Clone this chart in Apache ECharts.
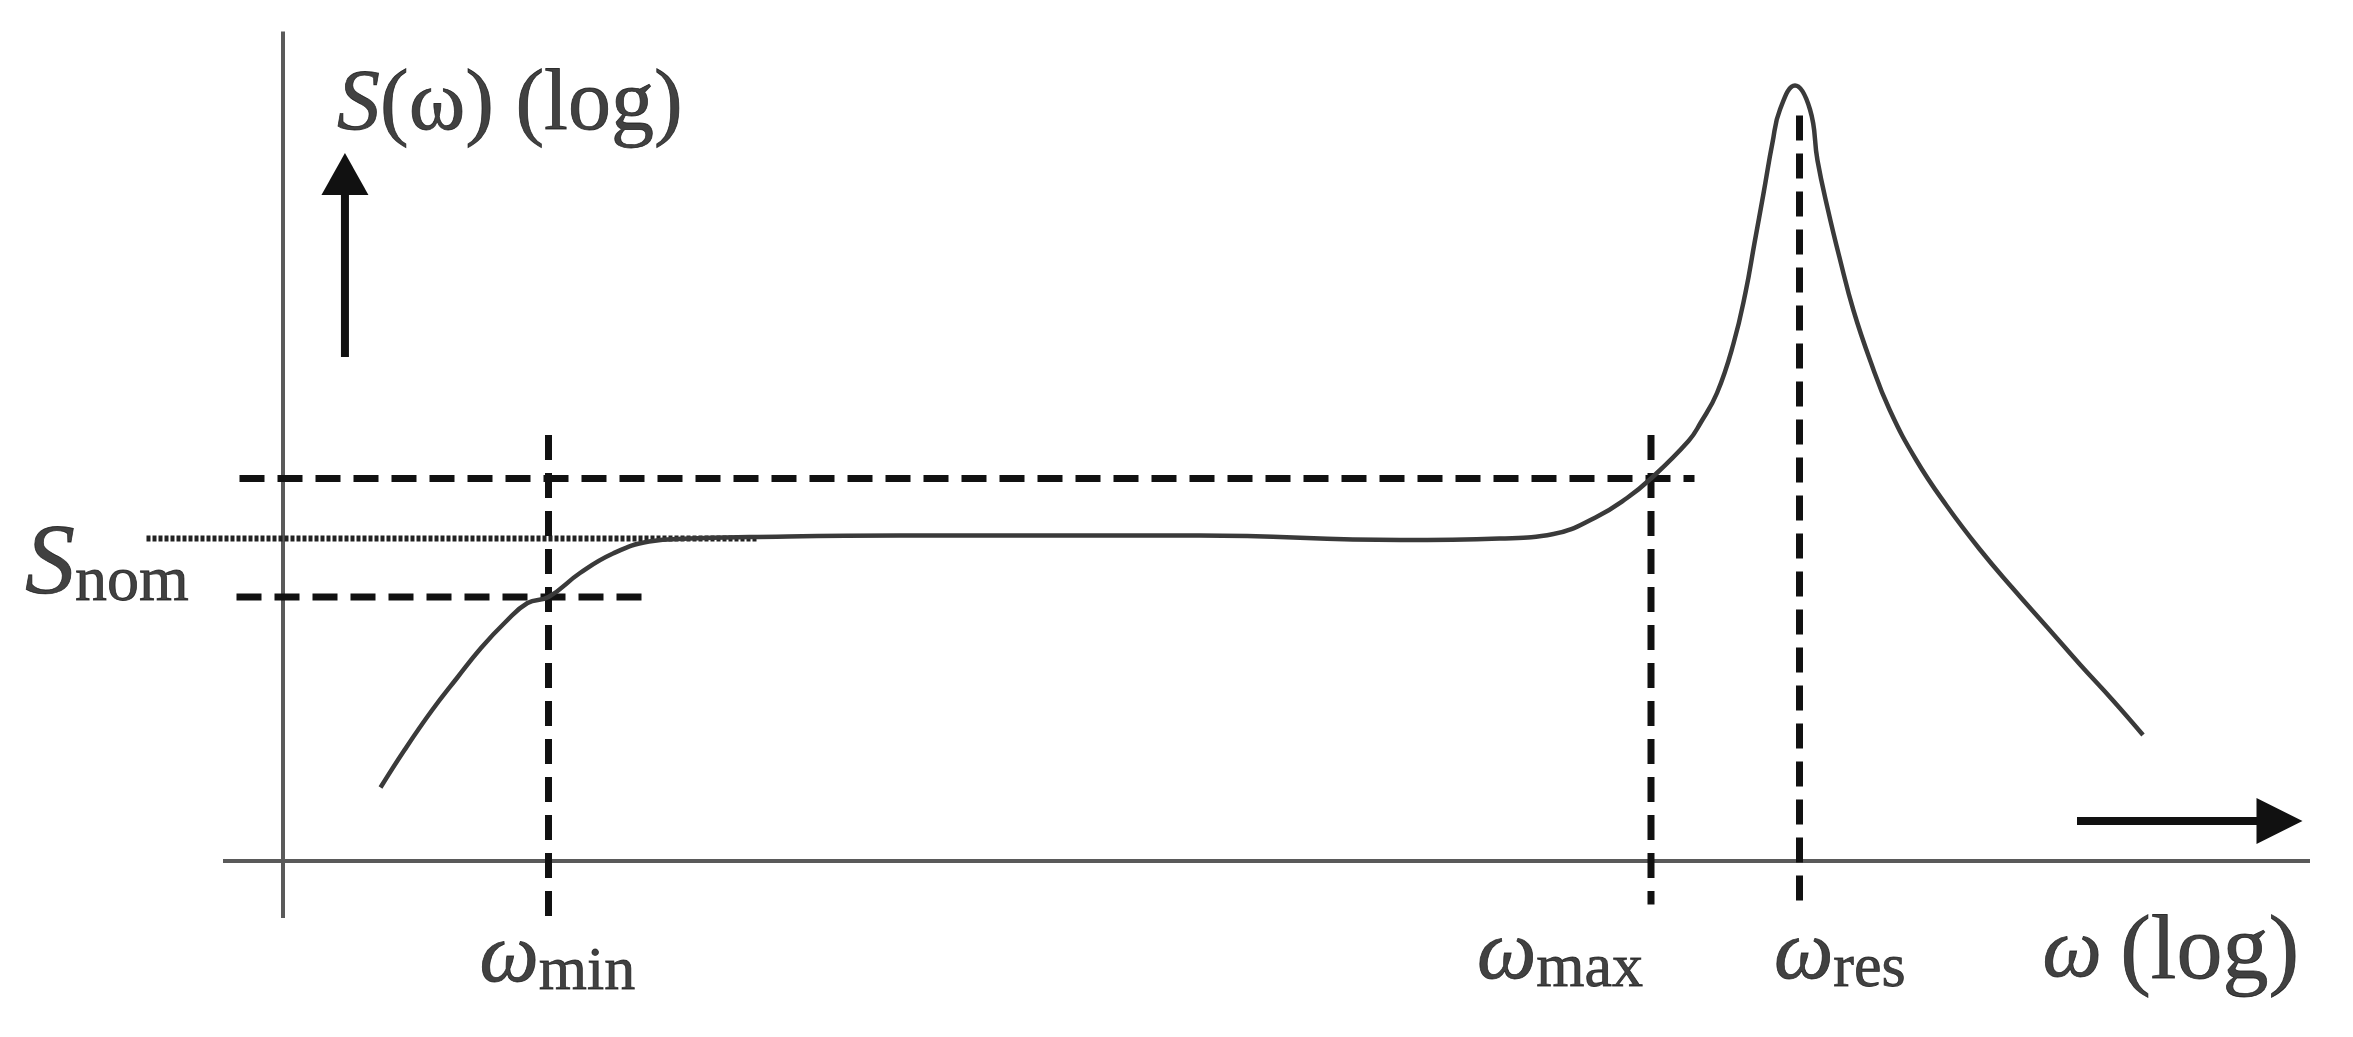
<!DOCTYPE html>
<html>
<head>
<meta charset="utf-8">
<style>
    html, body { margin: 0; padding: 0; background: #fff; }
    #chart { width: 2353px; height: 1037px; }
</style>
<script src="https://cdn.jsdelivr.net/npm/echarts@6/dist/echarts.min.js"></script>
</head>
<body>
<div id="chart"></div>
<script>
    // S(ω) curve, log-log sketch units
    var curveX = [0.65, 0.81, 0.99, 1.16, 1.32, 1.48, 1.63, 1.77, 1.98, 2.20, 2.44, 2.71, 3.11, 4.11, 6.11, 7.45, 8.11, 8.47, 8.75, 8.96, 9.12, 9.37, 9.45, 9.56, 9.67, 9.75, 9.81, 9.87, 9.93, 9.98, 10.08, 10.18, 10.23, 10.30, 10.38, 10.47, 10.58, 10.71, 10.89, 11.09, 11.31, 11.53, 11.76, 11.98, 12.20, 12.40];
    var curveY = [0.49, 0.74, 1.00, 1.22, 1.42, 1.59, 1.72, 1.76, 1.92, 2.05, 2.13, 2.15, 2.16, 2.17, 2.17, 2.14, 2.15, 2.18, 2.29, 2.42, 2.55, 2.80, 2.92, 3.12, 3.45, 3.79, 4.12, 4.45, 4.79, 5.01, 5.17, 5.01, 4.67, 4.34, 4.01, 3.67, 3.34, 3.01, 2.67, 2.37, 2.08, 1.82, 1.56, 1.31, 1.07, 0.84];

    // reference levels
    var sNom = 2.15;
    var sHigh = 2.55;
    var sLow = 1.76;
    var omegaMin = 1.77;
    var omegaMax = 9.12;
    var omegaRes = 10.11;

    // annotation texts
    var labelTexts = ['{s1|S}{u|(ω) (log)}', '{s2|S}{n|nom}', '{w|ω}{sub|min}', '{w|ω}{sub|max}', '{w|ω}{sub|res}', '{w2|ω}{g|\u2009(log)}'];
    var labelX = [0.36, -1.72, 1.31, 7.96, 9.94, 11.73];
    var labelY = [5.03, 1.97, -0.65, -0.63, -0.63, -0.62];

    var chart = echarts.init(document.getElementById('chart'));

    function seg(name, pts, color, width, type) {
        return {
            name: name,
            type: 'line',
            data: pts,
            showSymbol: false,
            silent: true,
            clip: false,
            lineStyle: { color: color, width: width, type: type || 'solid', cap: 'butt' },
            z: 2
        };
    }

    var curveData = curveX.map(function (x, i) { return [x, curveY[i]]; });
    var labelData = labelX.map(function (x, i) { return [x, labelY[i], labelTexts[i]]; });

    var serif = 'Liberation Serif';
    var txt = '#111';

    // rich text style helper
    function rs(size, lh, italic, va) {
        var s = { fontFamily: serif, fontSize: size, color: txt, lineHeight: lh, textBorderColor: txt, textBorderWidth: 0.8 };
        if (italic) s.fontStyle = 'italic';
        if (va) s.verticalAlign = va;
        return s;
    }

    var option = {
        animation: false,
        grid: { left: 58, right: 45, top: 36, bottom: 26 },
        xAxis: { type: 'value', min: -1.5, max: 13.5, show: false },
        yAxis: { type: 'value', min: -1, max: 5.5, show: false },
        series: [
            // axes
            seg('yLine', [[0, -0.38], [0, 5.53]], '#5a5a5a', 4),
            seg('xLine', [[-0.40, 0], [13.56, 0]], '#5a5a5a', 4),
            // levels
            seg('nom', [[-0.91, sNom], [3.16, sNom]], '#222', 6, [4, 2]),
            seg('high', [[-0.29, sHigh], [9.41, sHigh]], '#111', 7, [25, 13]),
            seg('low', [[-0.31, sLow], [2.45, sLow]], '#111', 7, [25, 13]),
            seg('wMin', [[omegaMin, 2.84], [omegaMin, -0.41]], '#111', 7, [25, 13]),
            seg('wMax', [[omegaMax, 2.84], [omegaMax, -0.29]], '#111', 7, [25, 13]),
            seg('wRes', [[omegaRes, 4.97], [omegaRes, -0.29]], '#111', 7, [25, 13]),
            // arrows
            seg('upShaft', [[0.413, 3.36], [0.413, 4.46]], '#111', 8),
            seg('rightShaft', [[11.96, 0.267], [13.18, 0.267]], '#111', 8),
            {
                type: 'scatter',
                silent: true,
                data: [
                    { value: [0.413, 4.58], symbolRotate: 0, symbolSize: [47, 42] },
                    { value: [13.31, 0.267], symbolRotate: -90, symbolSize: [46, 46] }
                ],
                symbol: 'triangle',
                itemStyle: { color: '#111', opacity: 1 },
                z: 3
            },
            {
                name: 'S',
                type: 'line',
                data: curveData,
                smooth: 0.45,
                showSymbol: false,
                silent: true,
                lineStyle: { color: '#3a3a3a', width: 4.5 },
                z: 4
            },
            {
                type: 'scatter',
                silent: true,
                clip: false,
                symbolSize: 0,
                data: labelData,
                label: {
                    show: true,
                    position: 'inside',
                    align: 'left',
                    verticalAlign: 'middle',
                    color: txt,
                    formatter: function (p) { return p.data[2]; },
                    rich: {
                        s1: rs(86, 92, true),
                        u: rs(86, 92),
                        s2: rs(100, 100, true),
                        n: rs(64, 82, false, 'bottom'),
                        w: rs(84, 90, true),
                        sub: rs(62, 59, false, 'bottom'),
                        w2: rs(84, 96, true),
                        g: rs(92, 96)
                    }
                },
                z: 5
            }
        ]
    };

    chart.setOption(option);
</script>
</body>
</html>
